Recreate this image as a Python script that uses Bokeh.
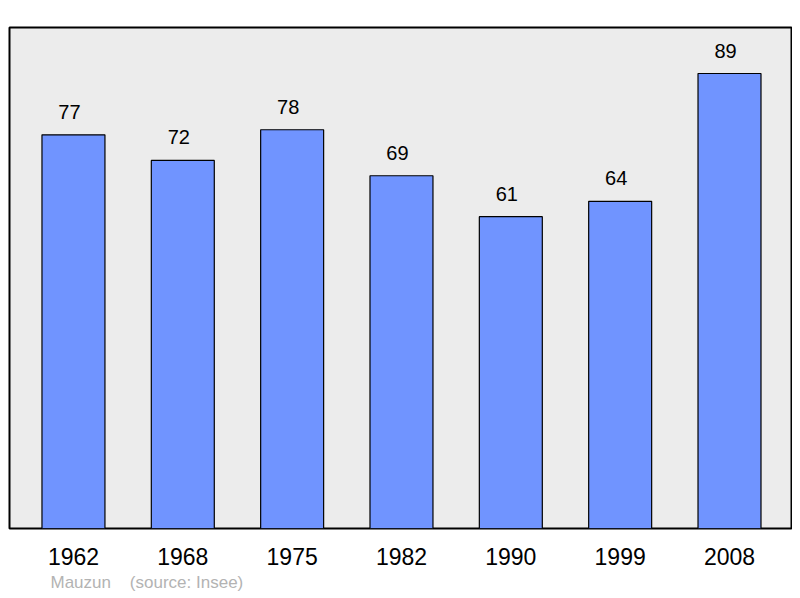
from bokeh.plotting import figure
from bokeh.models import Range1d, FixedTicker, Title, ColumnDataSource
from bokeh.core.properties import value
from bokeh.embed import file_html
from bokeh.resources import INLINE

years = ["1962", "1968", "1975", "1982", "1990", "1999", "2008"]
population = [77, 72, 78, 69, 61, 64, 89]
commune = "Mauzun"
source_text = "(source: Insee)"

xs = list(range(len(years)))
src = ColumnDataSource(dict(x=xs, top=population, label=[str(v) for v in population]))

p = figure(width=792, height=596, output_backend="svg", toolbar_location=None,
           x_range=Range1d(-0.585, len(years) - 1 + 0.567), y_range=Range1d(0, 98),
           min_border_left=9, min_border_right=1, min_border_top=27, min_border_bottom=68)

p.background_fill_color = "#ececec"
p.border_fill_color = "white"
p.outline_line_color = "black"
p.outline_line_width = 2
p.grid.visible = False
p.yaxis.visible = False

p.vbar(x="x", top="top", bottom=0, width=0.576, source=src,
       fill_color="#7094ff", line_color="black", line_width=1.2)
p.text(x="x", y="top", text="label", source=src, text_align="center",
       text_baseline="bottom", x_offset=-4, y_offset=-16, text_font_size="20px",
       text_color="black", text_font=value("Liberation Sans"))

ax = p.xaxis[0]
ax.ticker = FixedTicker(ticks=xs)
ax.major_label_overrides = {i: y for i, y in enumerate(years)}
ax.axis_line_color = None
ax.major_tick_line_color = None
ax.minor_tick_line_color = None
ax.major_label_text_font_size = "23px"
ax.major_label_text_font = "Liberation Sans"
ax.major_label_text_color = "black"
ax.major_label_standoff = 13

p.add_layout(Title(text=commune + "\u00a0" * 4 + source_text, align="left", offset=41,
                   standoff=7, text_font_size="17px", text_font_style="normal",
                   text_color="#b3b3b3", text_font="Liberation Sans"), "below")

open("out.html", "w").write(file_html(p, INLINE))
